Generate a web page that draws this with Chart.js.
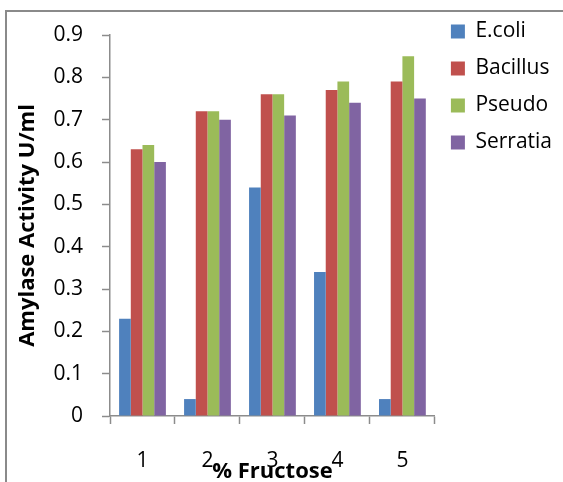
<!DOCTYPE html>
<html>
<head>
<meta charset="utf-8">
<script src="https://cdn.jsdelivr.net/npm/chart.js@4.4.1/dist/chart.umd.min.js"></script>
<style>
  html, body { margin: 0; padding: 0; background: #ffffff; }
  #wrap { position: relative; width: 563px; height: 482px; }
</style>
</head>
<body>
<div id="wrap"><canvas id="chart" width="563" height="482"></canvas></div>
<script>
// Amylase activity (U/ml) by % fructose for four isolates
const categories = ['1', '2', '3', '4', '5'];
const ecoli    = [0.23, 0.04, 0.54, 0.34, 0.04];
const bacillus = [0.63, 0.72, 0.76, 0.77, 0.79];
const pseudo   = [0.64, 0.72, 0.76, 0.79, 0.85];
const serratia = [0.60, 0.70, 0.71, 0.74, 0.75];
const seriesNames = ['E.coli', 'Bacillus', 'Pseudo', 'Serratia'];
const seriesColors = ['#4F81BD', '#C0504D', '#9BBB59', '#8064A2'];

const axisGray = '#8c8c8c';
const baseFont = "'Open Sans', 'Liberation Sans', sans-serif";

// thin grey frame round the whole chart
const framePlugin = {
  id: 'frame',
  beforeDraw(chart) {
    const ctx = chart.ctx;
    ctx.save();
    ctx.strokeStyle = '#8a8a8a';
    ctx.lineWidth = 2;
    ctx.strokeRect(6, 11, 700, 700);
    ctx.restore();
  }
};

new Chart(document.getElementById('chart'), {
  type: 'bar',
  data: {
    labels: categories,
    datasets: [ecoli, bacillus, pseudo, serratia].map((vals, i) => ({
      label: seriesNames[i],
      data: vals,
      backgroundColor: seriesColors[i],
      borderWidth: 0,
      categoryPercentage: 0.72,
      barPercentage: 1.0
    }))
  },
  options: {
    responsive: false,
    animation: false,
    devicePixelRatio: 1,
    layout: { padding: { top: 5, right: 1, bottom: 0, left: 0 } },
    plugins: {
      tooltip: { enabled: false },
      // empty spacer above the plot only, so the legend can sit higher than the plot top
      title: {
        display: true,
        text: '',
        fullSize: false,
        padding: { top: 20, bottom: 0 },
        font: { size: 10, lineHeight: 1 }
      },
      legend: {
        position: 'right',
        align: 'start',
        labels: {
          boxWidth: 14,
          boxHeight: 14,
          padding: 16,
          color: '#000',
          font: { family: baseFont, size: 21 }
        }
      }
    },
    scales: {
      x: {
        afterFit(s) { s.height = 66; },
        grid: {
          display: true,
          drawOnChartArea: false,
          drawTicks: true,
          tickLength: 8,
          tickWidth: 1.5,
          tickColor: axisGray,
          offset: true
        },
        border: { display: true, color: axisGray, width: 1.5 },
        ticks: {
          color: '#000',
          padding: 24,
          maxRotation: 0,
          font: { family: baseFont, size: 21 }
        },
        title: {
          display: true,
          text: '% Fructose',
          color: '#000',
          padding: { top: 0, bottom: -3 },
          font: { family: baseFont, size: 22, weight: 'bold' }
        }
      },
      y: {
        min: 0,
        max: 0.9,
        afterFit(s) { s.width = 110; },
        grid: {
          display: true,
          drawOnChartArea: false,
          drawTicks: true,
          tickLength: 8,
          tickWidth: 1.5,
          tickColor: axisGray
        },
        border: { display: true, color: axisGray, width: 1.5 },
        ticks: {
          stepSize: 0.1,
          color: '#000',
          padding: 19,
          autoSkip: false,
          font: { family: baseFont, size: 21 },
          callback: (v) => String(Math.round(v * 10) / 10)
        },
        title: {
          display: true,
          text: 'Amylase Activity U/ml',
          color: '#000',
          padding: { top: 15, bottom: 0 },
          font: { family: baseFont, size: 22, weight: 'bold' }
        }
      }
    }
  },
  plugins: [framePlugin]
});
</script>
</body>
</html>
